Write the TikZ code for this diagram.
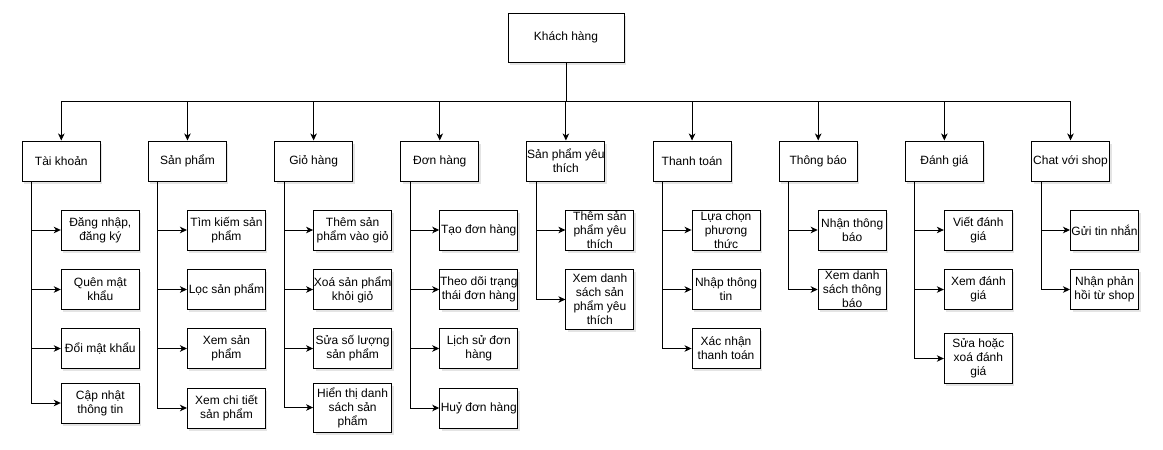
\documentclass[tikz,border=0pt]{standalone}
\usepackage{fontspec}
\setmainfont{Liberation Sans}
\usetikzlibrary{arrows.meta,shadows}
\tikzset{
  box/.style={draw=black, line width=1pt, fill=white, inner sep=0pt,
    drop shadow={shadow xshift=2pt, shadow yshift=-2.5pt, fill=gray!60, opacity=0.35}},
  lbl/.style={font=\fontsize{12}{14}\selectfont, align=center, inner sep=0pt, text=black},
  arr/.style={draw=black, line width=1pt, -{Stealth[length=7pt,width=6.5pt,inset=2pt]}},
  link/.style={draw=black, line width=1pt},
}
\newcommand\mybox[5]{%
  \node[box, minimum width=#3pt, minimum height=#4pt] (#1) at #2 {};
  \node[lbl] (#1t) at (#1) {#5};
}
\begin{document}
\begin{tikzpicture}[x=1pt,y=-1pt]
\useasboundingbox (0,0) rectangle (1163,450);
% root
\mybox{root}{(566,37.8)}{116}{49}{Khách hàng}
\coordinate (bus) at (566,101.7);
% level 2
\mybox{p0}{(61.3,161)}{78}{40}{Tài khoản}
\mybox{p1}{(187.45,161)}{78}{40}{Sản phẩm}
\mybox{p2}{(313.6,161)}{78}{40}{Giỏ hàng}
\mybox{p3}{(439.75,161)}{78}{40}{Đơn hàng}
\mybox{p4}{(565.9,161)}{78}{40}{Sản phẩm yêu\\thích}
\mybox{p5}{(692.05,161)}{78}{40}{Thanh toán}
\mybox{p6}{(818.2,161)}{78}{40}{Thông báo}
\mybox{p7}{(944.35,161)}{78}{40}{Đánh giá}
\mybox{p8}{(1070.5,161)}{78}{40}{Chat với shop}
% col 0
\mybox{a1}{(100.3,230)}{78}{40}{Đăng nhập,\\đăng ký}
\mybox{a2}{(100.3,289.5)}{78}{40}{Quên mật\\khẩu}
\mybox{a3}{(100.3,348.5)}{78}{40}{Đổi mật khẩu}
\mybox{a4}{(100.3,403)}{78}{40}{Cập nhật\\thông tin}
% col 1
\mybox{b1}{(226.45,230)}{78}{40}{Tìm kiếm sản\\phẩm}
\mybox{b2}{(226.45,289.5)}{78}{40}{Lọc sản phẩm}
\mybox{b3}{(226.45,348.5)}{78}{40}{Xem sản\\phẩm}
\mybox{b4}{(226.45,408)}{78}{40}{Xem chi tiết\\sản phẩm}
% col 2
\mybox{g1}{(352.6,230)}{78}{40}{Thêm sản\\phẩm vào giỏ}
\mybox{g2}{(352.6,289.5)}{78}{40}{Xoá sản phẩm\\khỏi giỏ}
\mybox{g3}{(352.6,348.5)}{78}{40}{Sửa số lượng\\sản phẩm}
\mybox{g4}{(352.6,407.5)}{78}{49}{Hiển thị danh\\sách sản\\phẩm}
% col 3
\mybox{d1}{(478.75,230)}{78}{40}{Tạo đơn hàng}
\mybox{d2}{(478.75,289.5)}{78}{40}{Theo dõi trạng\\thái đơn hàng}
\mybox{d3}{(478.75,348.5)}{78}{40}{Lịch sử đơn\\hàng}
\mybox{d4}{(478.75,408)}{78}{40}{Huỷ đơn hàng}
% col 4
\mybox{y1}{(599.9,230)}{68}{40}{Thêm sản\\phẩm yêu\\thích}
\mybox{y2}{(599.9,299.5)}{68}{60}{Xem danh\\sách sản\\phẩm yêu\\thích}
% col 5
\mybox{t1}{(726.05,230)}{68}{40}{Lựa chọn\\phương\\thức}
\mybox{t2}{(726.05,289.5)}{68}{40}{Nhập thông\\tin}
\mybox{t3}{(726.05,348.5)}{68}{40}{Xác nhận\\thanh toán}
% col 6
\mybox{n1}{(852.2,230)}{68}{40}{Nhận thông\\báo}
\mybox{n2}{(852.2,289.5)}{68}{40}{Xem danh\\sách thông\\báo}
% col 7
\mybox{e1}{(978.35,230)}{68}{40}{Viết đánh\\giá}
\mybox{e2}{(978.35,289.5)}{68}{40}{Xem đánh\\giá}
\mybox{e3}{(978.35,358.5)}{68}{50}{Sửa hoặc\\xoá đánh\\giá}
% col 8
\mybox{c1}{(1104.5,230)}{68}{40}{Gửi tin nhắn}
\mybox{c2}{(1104.5,289.5)}{68}{40}{Nhận phản\\hồi từ shop}
% root to level 2
\draw[link] (root.south) -- (bus);
\foreach \p in {p0,p1,p2,p3,p4,p5,p6,p7,p8}
  \draw[arr] (bus) -| (\p.north);
% level 2 to children
\foreach \p/\c in {p0/a1,p0/a2,p0/a3,p0/a4,
                   p1/b1,p1/b2,p1/b3,p1/b4,
                   p2/g1,p2/g2,p2/g3,p2/g4,
                   p3/d1,p3/d2,p3/d3,p3/d4,
                   p4/y1,p4/y2,
                   p5/t1,p5/t2,p5/t3,
                   p6/n1,p6/n2,
                   p7/e1,p7/e2,p7/e3,
                   p8/c1,p8/c2}
  \draw[arr] ([xshift=10pt]\p.south west) |- (\c.west);
\end{tikzpicture}
\end{document}
